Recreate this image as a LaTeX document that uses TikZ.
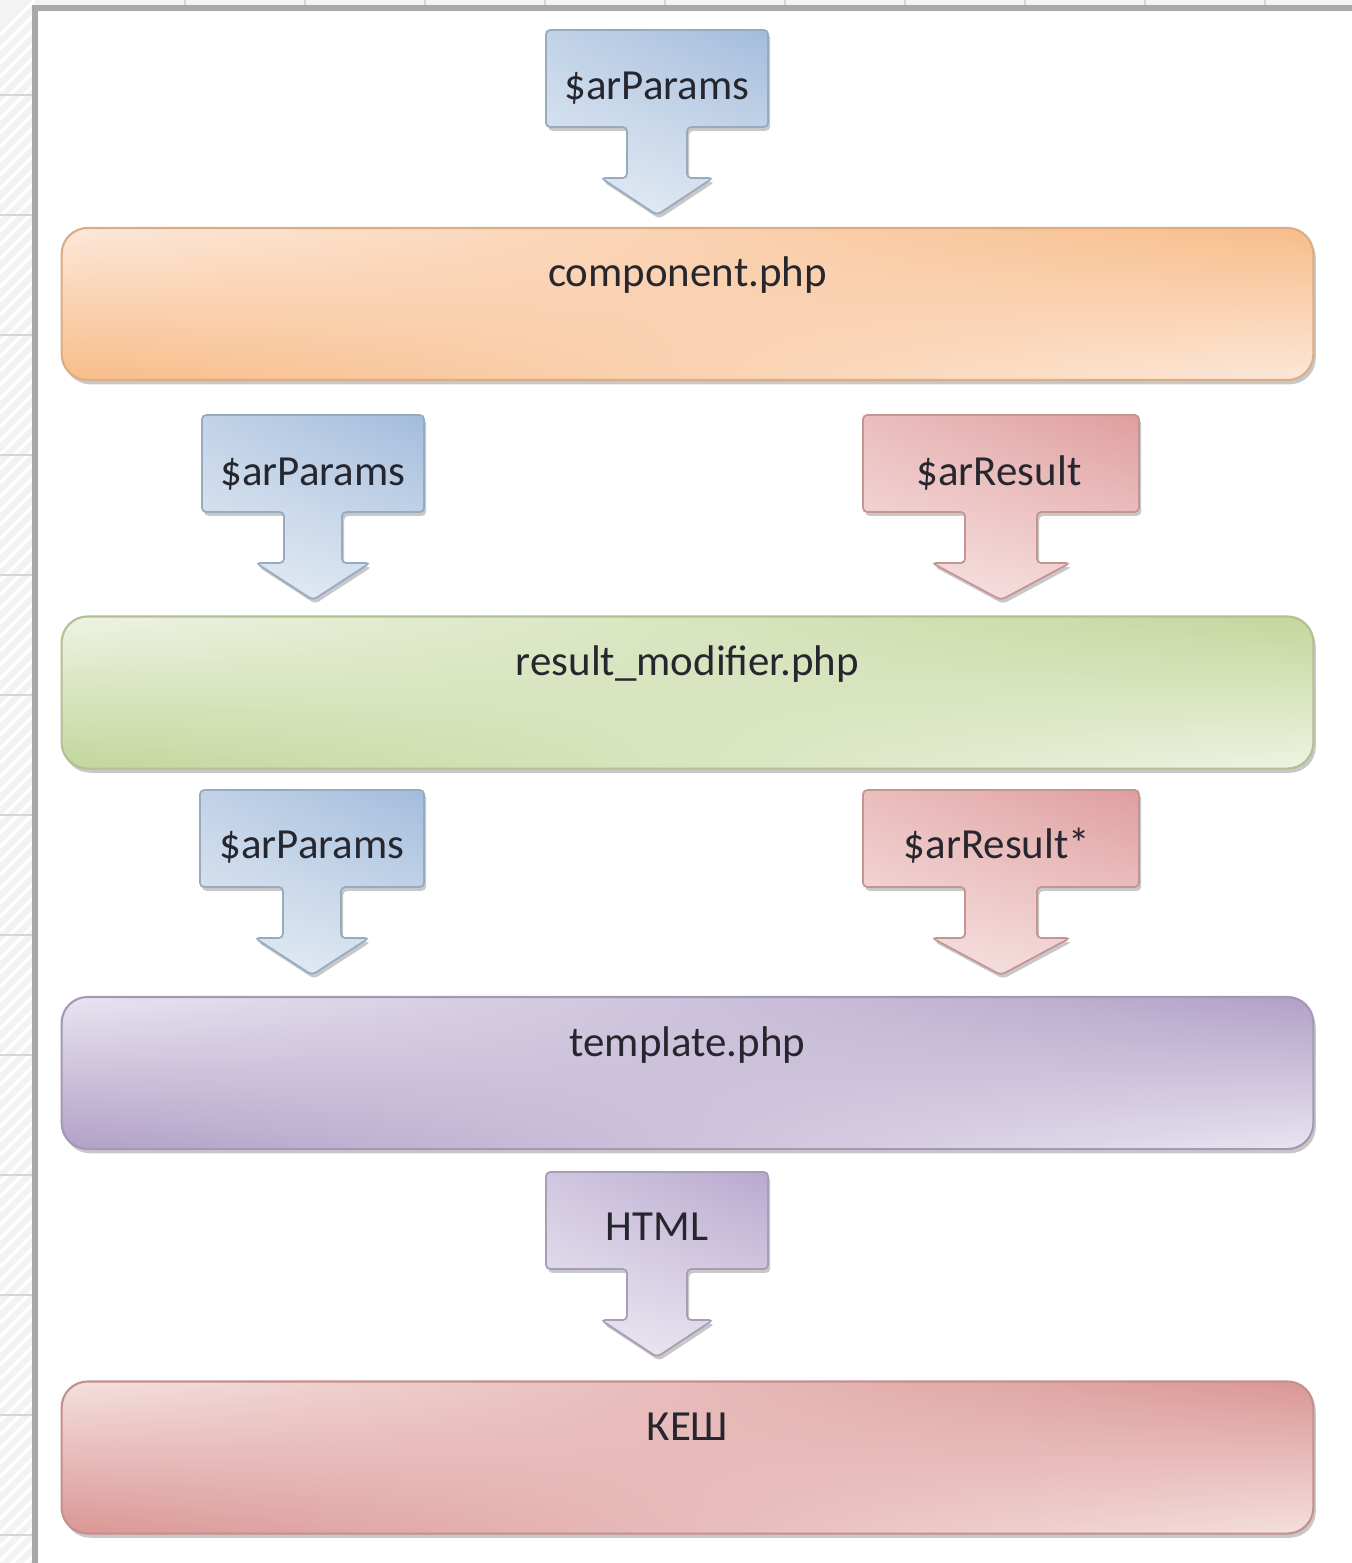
\documentclass[tikz,border=0pt]{standalone}
\usepackage{fontspec}
\setmainfont{Carlito}
\usetikzlibrary{shadows,shadings}
\definecolor{orD}{HTML}{F8BC88}
\definecolor{orL}{HTML}{FCE8DA}
\definecolor{grD}{HTML}{C3D69B}
\definecolor{grL}{HTML}{EEF3E3}
\definecolor{puD}{HTML}{B1A0C7}
\definecolor{puL}{HTML}{E9E4F0}
\definecolor{rdD}{HTML}{DA9694}
\definecolor{rdL}{HTML}{F4E0DF}
\definecolor{blD}{HTML}{A3BCDC}
\definecolor{blL}{HTML}{E6EDF5}
\definecolor{raD}{HTML}{E09E9E}
\definecolor{raL}{HTML}{F7E4E4}
\definecolor{paD}{HTML}{B8A9CF}
\definecolor{paL}{HTML}{EEEAF3}
\definecolor{txt}{HTML}{26262E}
\definecolor{stripbg}{HTML}{F3F3F3}
\definecolor{stripln}{HTML}{D6D6D6}
\definecolor{frame}{HTML}{A8A8A8}
\tikzset{
  barbox/.style 2 args={rounded corners=0.26cm, minimum width=12.51cm,
    minimum height=1.52cm, inner sep=0pt, text height=0.48cm, text depth=0.82cm,
    draw=#1!75!gray, line width=0.6pt,
    upper left=#2, lower left=#1, upper right=#1, lower right=#2,
    drop shadow={shadow xshift=0.7pt, shadow yshift=-1.2pt, opacity=0.3, fill=black!70},
    font=\fontsize{12.2}{15}\selectfont, text=txt},
  arrowbody/.style 2 args={rounded corners=1.2pt, draw=#1!70!gray, line width=0.5pt,
    upper left=#1!55!#2, upper right=#1, lower left=#2, lower right=#2!80!#1,
    drop shadow={shadow xshift=0.6pt, shadow yshift=-1.1pt, opacity=0.3, fill=black!70}},
  lbl/.style={anchor=base, inner sep=0pt, text=txt, font=\fontsize{12.2}{15}\selectfont}
}
% #1 cx, #2 ytop, #3 box half width, #4 shaft half width, #5 head half width, #6 style
\newcommand\callarrow[6]{%
  \path[#6] (#1-#3,#2) -- (#1+#3,#2) -- (#1+#3,#2+97) -- (#1+#4,#2+97)
    -- (#1+#4,#2+148) -- (#1+#5,#2+148) -- (#1,#2+185) -- (#1-#5,#2+148)
    -- (#1-#4,#2+148) -- (#1-#4,#2+97) -- (#1-#3,#2+97) -- cycle;}
\begin{document}
\begin{tikzpicture}[x=0.01cm,y=-0.01cm]
\useasboundingbox (0,0) rectangle (1352,1563);
\fill[white] (0,0) rectangle (1352,1563);
% left strip background
\fill[stripbg] (0,0) rectangle (35,1563);
\fill[stripbg] (35,0) rectangle (1352,8);
\begin{scope}
  \clip (0,0) rectangle (35,1563);
  \foreach \i in {0,14,...,1600} \draw[white, line width=1pt] (0,\i+35) -- (35,\i);
\end{scope}
\foreach \yy in {95,215,...,1535} \draw[stripln, line width=0.8pt] (0,\yy) -- (35,\yy);
\foreach \xx in {185,305,...,1265} \draw[stripln, line width=0.8pt] (\xx,0) -- (\xx,8);
\draw[frame, line width=1.6pt] (35,1563) -- (35,8) -- (1352,8);

% bars
\node[barbox={orD}{orL}] (comp) at (687.5,304) {component.php};
\node[barbox={grD}{grL}] (resmod) at (687.5,692.5) {result\_modifier.php};
\node[barbox={puD}{puL}] (tmpl) at (687.5,1073) {template.php};
\node[barbox={rdD}{rdL}] (cache) at (687.5,1457.5) {КЕШ};

% callout arrows
\callarrow{657}{30}{111}{30}{56}{arrowbody={blD}{blL}}
\node[lbl] (p0) at (657,99) {\$arParams};

\callarrow{313}{415}{111}{29}{57}{arrowbody={blD}{blL}}
\node[lbl] (p1) at (313,485) {\$arParams};
\callarrow{1001}{415}{138}{36}{69}{arrowbody={raD}{raL}}
\node[lbl] (r1) at (999,485) {\$arResult};

\callarrow{312}{790}{112}{29}{57}{arrowbody={blD}{blL}}
\node[lbl] (p2) at (312,858) {\$arParams};
\callarrow{1001}{790}{138}{36}{69}{arrowbody={raD}{raL}}
\node[lbl] (r2) at (997,858) {\$arResult*};

\callarrow{657}{1172}{111}{30}{56}{arrowbody={paD}{paL}}
\node[lbl] (h) at (657,1240) {HTML};
\end{tikzpicture}
\end{document}
